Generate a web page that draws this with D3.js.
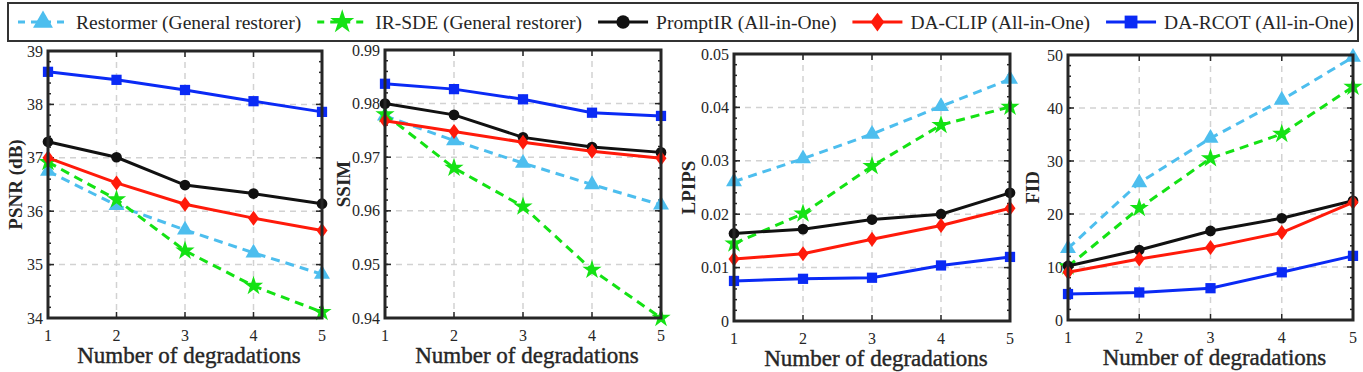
<!DOCTYPE html>
<meta charset="utf-8">
<style>
body { margin: 0; background: #fff; }
svg text { font-family: "Liberation Serif", Tinos, "Times New Roman", "DejaVu Serif", serif; fill: #262626; }
.grid line { stroke: #d2d2d2; stroke-width: 1.5px; stroke-dasharray: 6,5; }
.frame { fill: none; stroke: #262626; stroke-width: 3px; }
.ticks line { stroke: #262626; stroke-width: 1.5px; }
</style>
<svg width="1363" height="372"></svg>
<script src="https://d3js.org/d3.v7.min.js"></script>
<script>

// ---- data ----
var degradations = [1, 2, 3, 4, 5];
var methods = ["Restormer (General restorer)", "IR-SDE (General restorer)",
               "PromptIR (All-in-One)", "DA-CLIP (All-in-One)", "DA-RCOT (All-in-One)"];

// rows follow the order of `methods`
var psnr = [
  [36.75, 36.11, 35.65, 35.22, 34.82],
  [36.92, 36.22, 35.26, 34.60, 34.11],
  [37.30, 37.01, 36.49, 36.33, 36.14],
  [37.00, 36.53, 36.13, 35.87, 35.64],
  [38.61, 38.46, 38.27, 38.06, 37.86]
];
var ssim = [
  [0.9777, 0.9731, 0.9689, 0.9649, 0.9611],
  [0.9780, 0.9680, 0.9608, 0.9490, 0.9400],
  [0.9800, 0.9779, 0.9737, 0.9719, 0.9709],
  [0.9768, 0.9748, 0.9728, 0.9711, 0.9698],
  [0.9837, 0.9827, 0.9808, 0.9783, 0.9777]
];
var lpips = [
  [0.0261, 0.0304, 0.0350, 0.0402, 0.0453],
  [0.0145, 0.0201, 0.0290, 0.0367, 0.0401],
  [0.0164, 0.0172, 0.0190, 0.0200, 0.0240],
  [0.0116, 0.0126, 0.0153, 0.0179, 0.0211],
  [0.0075, 0.0079, 0.0081, 0.0104, 0.0120]
];
var fid = [
  [13.5, 25.9, 34.3, 41.5, 49.6],
  [10.1, 21.1, 30.5, 35.1, 44.0],
  [10.2, 13.2, 16.8, 19.2, 22.5],
  [9.0, 11.5, 13.7, 16.5, 22.2],
  [4.9, 5.2, 6.0, 9.0, 12.1]
];

var psnrTicks = [34, 35, 36, 37, 38, 39];
var ssimTicks = [0.94, 0.95, 0.96, 0.97, 0.98, 0.99];
var lpipsTicks = [0, 0.01, 0.02, 0.03, 0.04, 0.05];
var fidTicks = [0, 10, 20, 30, 40, 50];

// ---- styles ----
var colors = ["#4dbeee", "#14e214", "#111111", "#ff1a0a", "#0a2af5"];
var dashes = ["9,6", "9,6", null, null, null];
var shapes = ["triangle", "star", "circle", "diamond", "square"];

var panels = [
  { label: "PSNR (dB)", values: psnr, ticks: psnrTicks, minor: 0.2, fmt: function(d) { return d; },
    box: [48, 51, 322, 318], labelX: 15 },
  { label: "SSIM", values: ssim, ticks: ssimTicks, minor: 0.002, fmt: function(d) { return d.toFixed(2); },
    box: [385, 50, 661, 318], labelX: 343 },
  { label: "LPIPS", values: lpips, ticks: lpipsTicks, minor: 0.002, fmt: function(d) { return d === 0 ? "0" : d.toFixed(2); },
    box: [734, 54, 1010, 321], labelX: 688 },
  { label: "FID", values: fid, ticks: fidTicks, minor: 2, fmt: function(d) { return d; },
    box: [1068, 55, 1353, 320], labelX: 1032 }
];

var svg = d3.select("svg");

function markerPath(shape) {
  if (shape === "diamond") {
    return "M0,-7.5L5.5,0L0,7.5L-5.5,0Z";
  }
  var types = { triangle: d3.symbolTriangle, star: d3.symbolStar, circle: d3.symbolCircle, square: d3.symbolSquare };
  var sizes = { triangle: 110, star: 115, circle: 90, square: 105 };
  return d3.symbol().type(types[shape]).size(sizes[shape])();
}

panels.forEach(function(p) {
  var L = p.box[0], T = p.box[1], R = p.box[2], B = p.box[3];
  var x = d3.scaleLinear().domain([1, 5]).range([L, R]);
  var y = d3.scaleLinear().domain(d3.extent(p.ticks)).range([B, T]);
  var g = svg.append("g");

  // grid
  var grid = g.append("g").attr("class", "grid");
  grid.selectAll(".gx").data(degradations.slice(1, -1)).enter().append("line")
      .attr("x1", function(d) { return x(d); }).attr("x2", function(d) { return x(d); })
      .attr("y1", T).attr("y2", B);
  grid.selectAll(".gy").data(p.ticks.slice(1, -1)).enter().append("line")
      .attr("y1", function(d) { return y(d); }).attr("y2", function(d) { return y(d); })
      .attr("x1", L).attr("x2", R);

  // ticks (inward, MATLAB style)
  var tk = g.append("g").attr("class", "ticks");
  var minorTicks = d3.range(y.domain()[0], y.domain()[1] + p.minor / 2, p.minor);
  [L, R].forEach(function(xe, i) {
    var dir = i === 0 ? 1 : -1;
    tk.selectAll(null).data(minorTicks).enter().append("line")
        .attr("x1", xe).attr("x2", xe + dir * 3)
        .attr("y1", function(d) { return y(d); }).attr("y2", function(d) { return y(d); });
    tk.selectAll(null).data(p.ticks).enter().append("line")
        .attr("x1", xe).attr("x2", xe + dir * 6)
        .attr("y1", function(d) { return y(d); }).attr("y2", function(d) { return y(d); });
  });
  [B, T].forEach(function(ye, i) {
    var dir = i === 0 ? -1 : 1;
    tk.selectAll(null).data(degradations).enter().append("line")
        .attr("y1", ye).attr("y2", ye + dir * 6)
        .attr("x1", function(d) { return x(d); }).attr("x2", function(d) { return x(d); });
  });

  // tick labels
  g.selectAll(".yl").data(p.ticks).enter().append("text")
      .attr("x", L - 5).attr("y", function(d) { return y(d); })
      .attr("dy", "0.35em").attr("text-anchor", "end")
      .style("font-size", "16px")
      .text(p.fmt);
  g.selectAll(".xl").data(degradations).enter().append("text")
      .attr("x", function(d) { return x(d); }).attr("y", B + 17)
      .attr("dy", "0.35em").attr("text-anchor", "middle")
      .style("font-size", "16px")
      .text(function(d) { return d; });

  // axis titles
  g.append("text")
      .attr("transform", "translate(" + p.labelX + "," + ((T + B) / 2) + ") rotate(-90)")
      .attr("text-anchor", "middle").attr("dy", "0.35em")
      .style("font-size", "19px").style("font-weight", "bold")
      .text(p.label);
  g.append("text")
      .attr("x", (L + R) / 2 + 4).attr("y", B + 45)
      .attr("text-anchor", "middle")
      .style("font-size", "23px")
      .style("stroke", "#262626").style("stroke-width", "0.4px")
      .text("Number of degradations");

  // series
  var line = d3.line().x(function(d, i) { return x(degradations[i]); }).y(function(d) { return y(d); });
  p.values.forEach(function(vals, k) {
    g.append("path")
        .attr("d", line(vals))
        .attr("fill", "none")
        .attr("stroke", colors[k])
        .attr("stroke-width", 3)
        .attr("stroke-dasharray", dashes[k]);
    g.selectAll(null).data(vals).enter().append("path")
        .attr("d", markerPath(shapes[k]))
        .attr("transform", function(d, i) { return "translate(" + x(degradations[i]) + "," + y(d) + ")"; })
        .attr("fill", colors[k]);
  });

  g.append("rect").attr("class", "frame")
      .attr("x", L).attr("y", T).attr("width", R - L).attr("height", B - T);
});

// ---- legend ----
var leg = svg.append("g");
leg.append("rect")
    .attr("x", 8).attr("y", 3).attr("width", 1350).attr("height", 38)
    .attr("fill", "#fff").attr("stroke", "#333").attr("stroke-width", 2);

var cx = 18, ly = 22;
methods.forEach(function(name, k) {
  leg.append("line")
      .attr("x1", cx).attr("x2", cx + 50).attr("y1", ly).attr("y2", ly)
      .attr("stroke", colors[k]).attr("stroke-width", 3)
      .attr("stroke-dasharray", dashes[k] ? "7,6" : null);
  leg.append("path")
      .attr("d", markerPath(shapes[k]))
      .attr("transform", "translate(" + (cx + 25) + "," + ly + ") scale(1.25)")
      .attr("fill", colors[k]);
  var t = leg.append("text")
      .attr("x", cx + 58).attr("y", ly).attr("dy", "0.35em")
      .style("font-size", "19.5px")
      .text(name);
  cx += 58 + t.node().getComputedTextLength() + 16;
});

</script>
